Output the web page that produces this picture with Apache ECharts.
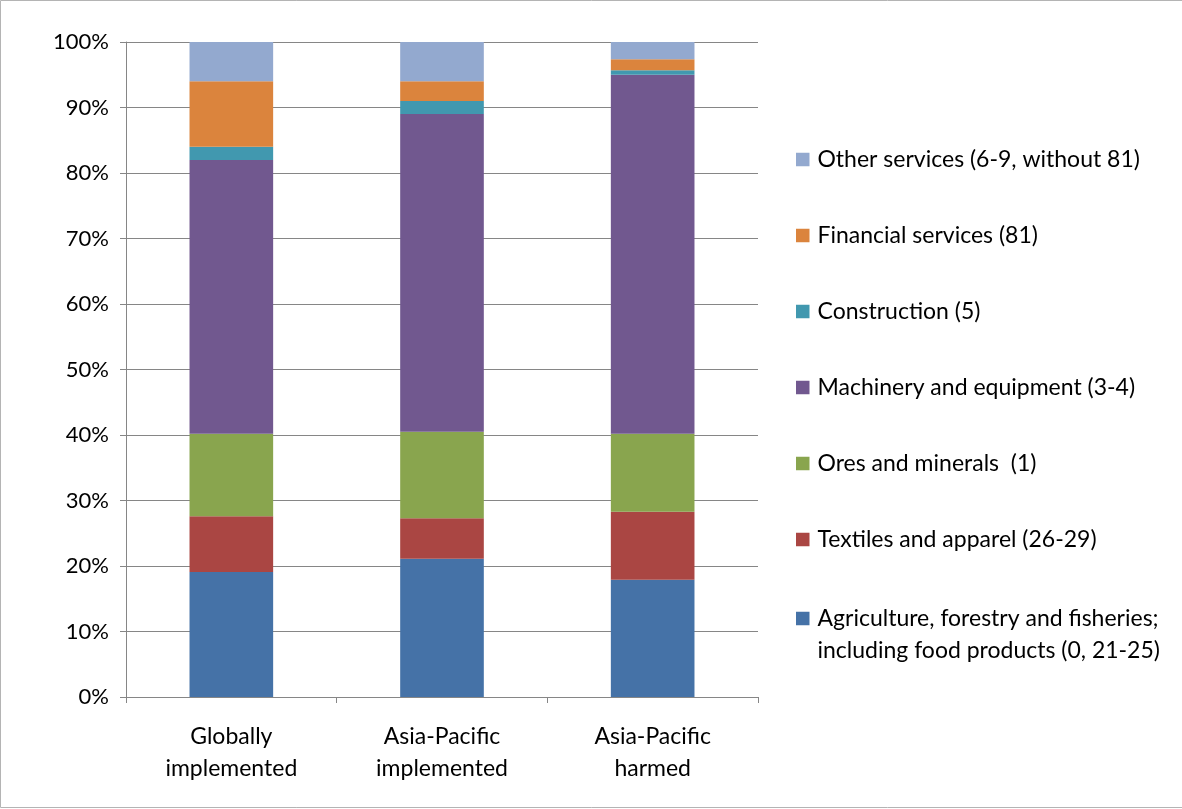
<!DOCTYPE html>
<html>
<head>
<meta charset="utf-8">
<script src="https://cdn.jsdelivr.net/npm/echarts@6/dist/echarts.min.js"></script>
<style>
html,body{margin:0;padding:0;background:#fff;}
#chart{width:1182px;height:809px;}
</style>
</head>
<body>
<div id="chart"></div>
<script>
const categories = ['Globally\nimplemented', 'Asia-Pacific\nimplemented', 'Asia-Pacific\nharmed'];
const seriesNames = [
  'Agriculture, forestry and fisheries;\nincluding food products (0, 21-25)',
  'Textiles and apparel (26-29)',
  'Ores and minerals  (1)',
  'Machinery and equipment (3-4)',
  'Construction (5)',
  'Financial services (81)',
  'Other services (6-9, without 81)'
];
const agriculture = [19.1, 21.1, 17.9];
const textiles = [8.5, 6.2, 10.4];
const ores = [12.6, 13.2, 11.9];
const machinery = [41.8, 48.5, 54.8];
const construction = [2.0, 2.0, 0.7];
const financial = [10.0, 3.0, 1.65];
const otherServices = [6.0, 6.0, 2.65];
const yTicks = {min: 0, max: 100, interval: 10};

const colors = ['#4572A7', '#AA4643', '#89A54E', '#71588F', '#4198AF', '#DB843D', '#93A9CF'];
const values = [agriculture, textiles, ores, machinery, construction, financial, otherServices];

const font = 'Lato';
const axisGray = '#868686';

const chart = echarts.init(document.getElementById('chart'), null, {renderer: 'canvas'});
const option = {
  animation: false,
  color: colors,
  textStyle: {fontFamily: font},
  graphic: [{
    type: 'rect',
    shape: {x: 0.5, y: 0.5, width: 1200, height: 807},
    style: {fill: 'none', stroke: '#b4b4b4', lineWidth: 1},
    silent: true
  }],
  grid: {left: 126, right: 424, top: 42, bottom: 112, containLabel: false},
  legend: [{
    orient: 'vertical',
    left: 796,
    top: 147.5,
    padding: 0,
    itemGap: 52,
    itemWidth: 13.5,
    itemHeight: 13.5,
    icon: 'rect',
    textStyle: {fontFamily: font, fontSize: 23, color: '#000', lineHeight: 24, padding: [0, 0, 0, 3]},
    data: seriesNames.slice(1).reverse()
  }, {
    orient: 'vertical',
    left: 796,
    top: 570.5,
    padding: 0,
    itemWidth: 13.5,
    itemHeight: 13.5,
    icon: 'rect',
    formatter: function (name) { return '\n' + name; },
    textStyle: {fontFamily: font, fontSize: 23, color: '#000', lineHeight: 32, padding: [0, 0, 0, 3]},
    data: [seriesNames[0]]
  }],
  xAxis: {
    type: 'category',
    data: categories,
    axisLine: {lineStyle: {color: axisGray, width: 1}},
    axisTick: {show: true, length: 6, alignWithLabel: false, lineStyle: {color: axisGray}},
    axisLabel: {interval: 0, fontFamily: font, fontSize: 23, color: '#000', lineHeight: 32, margin: 24}
  },
  yAxis: {
    type: 'value',
    min: yTicks.min,
    max: yTicks.max,
    interval: yTicks.interval,
    axisLine: {show: true, lineStyle: {color: axisGray, width: 1}},
    axisTick: {show: true, length: 6, lineStyle: {color: axisGray}},
    axisLabel: {formatter: '{value}%', fontFamily: font, fontSize: 22, color: '#000', margin: 17},
    splitLine: {show: true, lineStyle: {color: axisGray, width: 1}}
  },
  series: seriesNames.map((name, i) => ({
    name: name,
    type: 'bar',
    stack: 'total',
    barWidth: '39.7%',
    data: values[i],
    itemStyle: {color: colors[i]}
  }))
};
chart.setOption(option);
</script>
</body>
</html>
